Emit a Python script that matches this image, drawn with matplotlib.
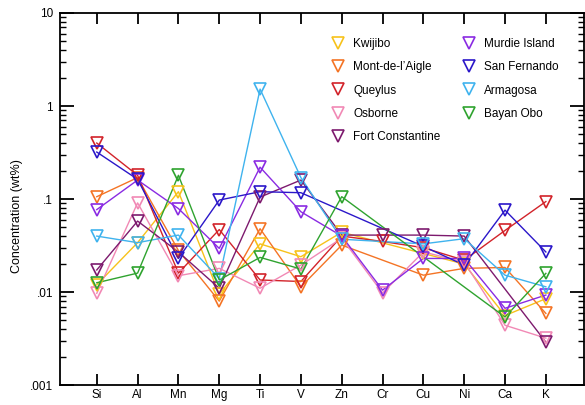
import numpy as np
import matplotlib
matplotlib.use("Agg")
import matplotlib.pyplot as plt
from matplotlib.ticker import FixedLocator, FixedFormatter, LogLocator, NullFormatter

plt.rcParams["font.family"] = ["Liberation Sans", "DejaVu Sans"]

nan = np.nan
elements = ["Si", "Al", "Mn", "Mg", "Ti", "V", "Zn", "Cr", "Cu", "Ni", "Ca", "K"]

kwijibo = [0.012, 0.034, 0.12, 0.0095, 0.033, 0.024, 0.044, nan, 0.026, 0.02, 0.0056, 0.0085]
mont_de_laigle = [0.106, 0.17, 0.028, 0.008, 0.048, 0.0114, 0.032, nan, 0.0152, 0.018, 0.0184, 0.0059]
queylus = [0.40, 0.18, 0.016, 0.047, 0.0135, 0.013, 0.04, 0.035, 0.03, 0.022, 0.046, 0.094]
osborne = [0.0097, 0.091, 0.015, 0.018, 0.011, 0.0195, 0.038, 0.0098, 0.027, 0.021, 0.0044, 0.0032]
fort_constantine = [0.0173, 0.058, 0.027, 0.011, 0.105, 0.16, 0.041, 0.041, 0.041, 0.04, nan, 0.0029]
murdie_island = [0.077, 0.16, 0.079, 0.0295, 0.22, 0.073, 0.04, 0.0105, 0.023, 0.023, 0.0067, 0.0093]
san_fernando = [0.32, 0.163, 0.023, 0.0975, 0.12, 0.117, nan, nan, 0.031, 0.0195, 0.076, 0.027]
armagosa = [0.040, 0.034, 0.041, 0.014, 1.52, 0.17, 0.037, nan, 0.033, 0.0375, 0.0152, 0.0114]
bayan_obo = [0.0126, 0.016, 0.18, 0.0135, 0.0236, 0.0177, 0.106, nan, nan, nan, 0.0054, 0.0159]

series = [
    ("Kwijibo", kwijibo, "#f7c21b"),
    ("Mont-de-l\u2019Aigle", mont_de_laigle, "#f47425"),
    ("Queylus", queylus, "#d2232a"),
    ("Osborne", osborne, "#f189b5"),
    ("Fort Constantine", fort_constantine, "#7d1a6e"),
    ("Murdie Island", murdie_island, "#8a2be2"),
    ("San Fernando", san_fernando, "#2b17c9"),
    ("Armagosa", armagosa, "#3fb3ee"),
    ("Bayan Obo", bayan_obo, "#2fa32f"),
]


def main():
    fig = plt.figure(figsize=(5.85, 4.05), dpi=100)
    ax = fig.add_axes([0.1026, 0.049, 0.8954, 0.919])

    x = np.arange(len(elements))
    handles = []
    for name, vals, color in series:
        v = np.array(vals, dtype=float)
        ok = ~np.isnan(v)
        ax.plot(x[ok], v[ok], color=color, lw=1.0, zorder=2)
        h, = ax.plot(x[ok], v[ok], ls="none", marker="v", ms=9, mfc="none",
                     mec=color, mew=1.2, zorder=3, label=name)
        handles.append(h)

    ax.set_yscale("log")
    ax.set_ylim(0.001, 10)
    ax.set_xlim(-0.9, 11.93)

    ax.yaxis.set_major_locator(FixedLocator([0.001, 0.01, 0.1, 1, 10]))
    ax.yaxis.set_major_formatter(FixedFormatter([".001", ".01", ".1", "1", "10"]))
    ax.yaxis.set_minor_locator(LogLocator(base=10, subs=np.arange(2, 10)))
    ax.yaxis.set_minor_formatter(NullFormatter())

    ax.set_xticks(x)
    ax.set_xticklabels(elements)

    ax.tick_params(which="major", direction="in", length=8, width=1.3,
                   top=True, right=True, labelsize=8.5, pad=3)
    ax.tick_params(which="minor", direction="in", length=4.5, width=1.0,
                   right=True, left=True)
    ax.tick_params(axis="y", which="major", length=10, pad=5)
    for s in ax.spines.values():
        s.set_linewidth(1.3)

    # y label sits a bit below the axes middle in the original
    fig.text(17 / 585, 1 - 216 / 405, "Concentration (wt%)", rotation=90,
             fontsize=9, ha="center", va="center")

    ax.legend(handles=handles, ncol=2, frameon=False, fontsize=8.5,
              loc="upper left", bbox_to_anchor=(0.508, 0.945),
              handlelength=1.2, handletextpad=0.7, columnspacing=1.8,
              labelspacing=0.95, borderaxespad=0)

    fig.savefig("out.png", dpi=100)


if __name__ == '__main__':
    main()
